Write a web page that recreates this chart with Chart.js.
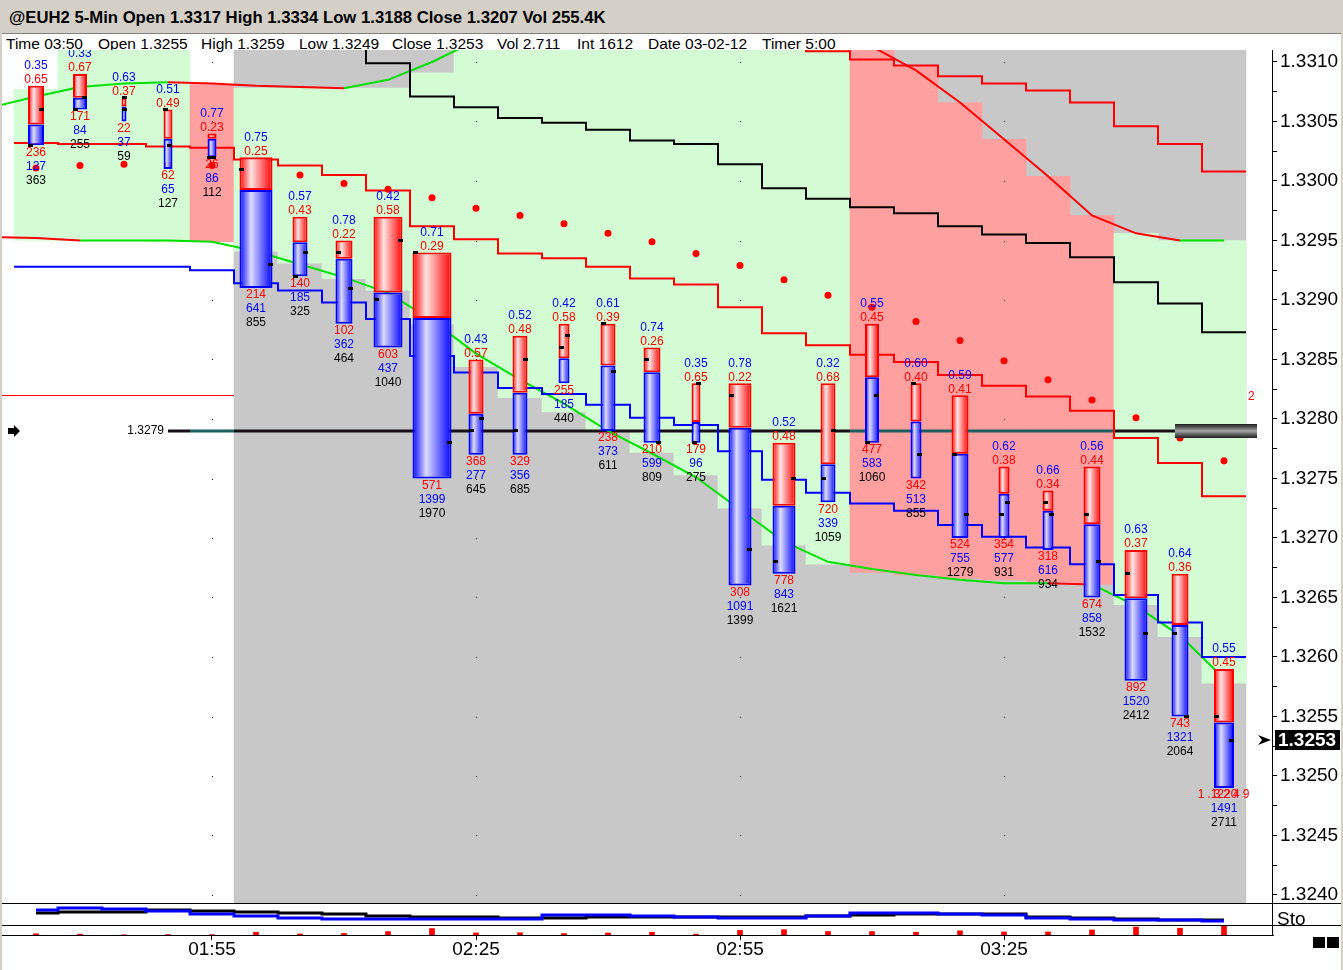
<!DOCTYPE html>
<html>
<head>
<meta charset="utf-8">
<title>@EUH2 5-Min</title>
<script src="https://cdn.jsdelivr.net/npm/chart.js@4.4.1/dist/chart.umd.min.js"></script>
<style>
  html, body { margin: 0; padding: 0; }
  body { width: 1343px; height: 970px; overflow: hidden; position: relative; background: #fff;
         font-family: "Liberation Sans", Arial, sans-serif; color: #000; }
  .abs { position: absolute; }
  #titlebar { left: 0; top: 0; width: 1343px; height: 34px; background: #d4d0c8; border-bottom: 1px solid #808080; box-sizing: border-box; }
  #titlebar span { position: absolute; left: 9px; top: 8px; font-weight: bold; font-size: 16.7px; white-space: nowrap; }
  #info span { position: absolute; top: 36px; font-size: 15.5px; line-height: 15px; white-space: nowrap; }
  canvas { position: absolute; left: 0; }
  .hline { position: absolute; height: 1px; background: #000; }
  .frame { position: absolute; background: #d4d0c8; }
</style>
</head>
<body>
<div id="titlebar" class="abs"><span>@EUH2 5-Min Open 1.3317 High 1.3334 Low 1.3188 Close 1.3207 Vol 255.4K</span></div>
<div id="info"></div>
<canvas id="main" width="1343" height="853" style="top:50px"></canvas>
<canvas id="sto" width="1343" height="22" style="top:903px"></canvas>
<canvas id="vol" width="1343" height="45" style="top:925px"></canvas>
<div class="hline" style="left:0;top:903px;width:1343px"></div>
<div class="hline" style="left:0;top:925px;width:1343px"></div>
<div class="hline" style="left:0;top:935px;width:1274px"></div>
<div class="abs" style="left:1272px;top:903px;width:1px;height:33px;background:#000"></div>
<div class="abs" style="left:1277px;top:909px;font-size:19px;line-height:19px">Sto</div>
<div class="abs" style="left:1313px;top:937px;width:12px;height:11px;background:#000"></div>
<div class="abs" style="left:1327px;top:937px;width:12px;height:11px;background:#000"></div>
<div class="frame" style="left:0;top:33px;width:2px;height:937px"></div>
<div class="frame" style="left:1341px;top:33px;width:2px;height:937px"></div>

<script>
// ----------------------
// Data (5-min bars, 01:35 .. 03:50)
// ----------------------
const times = ['01:35','01:40','01:45','01:50','01:55','02:00','02:05','02:10','02:15','02:20',
               '02:25','02:30','02:35','02:40','02:45','02:50','02:55','03:00','03:05','03:10',
               '03:15','03:20','03:25','03:30','03:35','03:40','03:45','03:50'];
const axisTimes = ['01:55', '02:25', '02:55', '03:25'];
const priceLabels = ['1.3240','1.3245','1.3250','1.3255','1.3260','1.3265','1.3270','1.3275',
                     '1.3280','1.3285','1.3290','1.3295','1.3300','1.3305','1.3310'];

const open  = [1.3303,1.3306,1.3307,1.3306,1.3302,1.3301,1.3292,1.3294,1.3290,1.3294,1.3279,1.3279,1.3286,1.3288,
               1.3285,1.3278,1.3282,1.3268,1.3275,1.3278,1.3283,1.3277,1.3272,1.3273,1.3272,1.3267,1.3262,1.3255];
const high  = [1.3308,1.3309,1.3307,1.3306,1.3304,1.3302,1.3297,1.3295,1.3297,1.3294,1.3285,1.3287,1.3288,1.3288,
               1.3286,1.3283,1.3283,1.3278,1.3283,1.3288,1.3283,1.3282,1.3276,1.3274,1.3276,1.3269,1.3267,1.3259];
const low   = [1.3303,1.3306,1.3305,1.3301,1.3302,1.3291,1.3292,1.3288,1.3286,1.3275,1.3277,1.3277,1.3283,1.3279,
               1.3278,1.3278,1.3266,1.3267,1.3273,1.3278,1.3275,1.3270,1.3270,1.3269,1.3265,1.3258,1.3255,1.3249];
const close = [1.3306,1.3307,1.3306,1.3303,1.3302,1.3293,1.3294,1.3291,1.3295,1.3278,1.3280,1.3285,1.3287,1.3284,
               1.3278,1.3283,1.3269,1.3275,1.3279,1.3282,1.3277,1.3272,1.3273,1.3272,1.3268,1.3262,1.3255,1.3253];

const upRatio   = [0.35,0.33,0.63,0.51,0.77,0.75,0.57,0.78,0.42,0.71,0.43,0.52,0.42,0.61,
                   0.74,0.35,0.78,0.52,0.32,0.55,0.60,0.59,0.62,0.66,0.56,0.63,0.64,0.55];
const downRatio = [0.65,0.67,0.37,0.49,0.23,0.25,0.43,0.22,0.58,0.29,0.57,0.48,0.58,0.39,
                   0.26,0.65,0.22,0.48,0.68,0.45,0.40,0.41,0.38,0.34,0.44,0.37,0.36,0.45];
const downVol  = [236,171,22,62,26,214,140,102,603,571,368,329,255,238,210,179,308,778,720,477,342,524,354,318,674,892,743,1220];
const upVol    = [127,84,37,65,86,641,185,362,437,1399,277,356,185,373,599,96,1091,843,339,583,513,755,577,616,858,1520,1321,1491];
const totalVol = [363,255,59,127,112,855,325,464,1040,1970,645,685,440,611,809,275,1399,1621,1059,1060,855,1279,931,934,1532,2412,2064,2711];

// red dots
const sar = [1.33011,1.33013,1.33014,1.33014,1.33013,1.33009,1.33005,1.32998,1.32993,1.32986,1.32977,1.32971,1.32964,1.32956,
             1.32949,1.32939,1.32929,1.32917,1.32904,1.32894,1.32882,1.32866,1.32849,1.32833,1.32816,1.32801,1.32784,1.32765];

// step lines, one level per bar slot
const stopLine  = [1.33032,1.33031,1.33031,1.33029,1.33028,1.33018,1.33013,1.33005,1.32992,1.32962,1.32951,1.32939,1.32935,1.32928,
                   1.32918,1.32913,1.32894,1.32872,1.32862,1.32854,1.32848,1.32837,1.32828,1.32819,1.32807,1.32784,1.32763,1.32735];
const trailLine = [1.32928,1.32928,1.32928,1.32928,1.32925,1.32914,1.32908,1.32898,1.32884,1.32853,1.32839,1.32826,1.32821,1.32812,
                   1.32801,1.32795,1.32773,1.32749,1.32738,1.32729,1.32723,1.32711,1.32701,1.32692,1.32678,1.32652,1.32629,1.32600];
const slowLine  = [null,null,null,null,null,null,null,1.33118,1.33099,1.33071,1.33062,1.33053,1.33049,1.33043,
                   1.33034,1.33031,1.33014,1.32994,1.32985,1.32978,1.32973,1.32962,1.32955,1.32948,1.32936,1.32915,1.32897,1.32873];
const upperStop = [null,null,null,null,null,null,null,null,null,null,null,null,null,null,null,null,null,
                   1.33118,1.33109,1.33102,1.33097,1.33088,1.33082,1.33076,1.33066,1.33046,1.33031,1.33008];

// envelope lines: first value belongs to the 01:30 bar just off the left edge
const upperBand = [1.33062, 1.33071,1.33079,1.33082,1.33083,1.33082,1.33080,1.33079,1.33078,1.33085,1.33100,1.33118,
                   null,null,null,null,null,null,null,null,
                   1.33113,1.33093,1.33066,1.33035,1.33004,1.32971,1.32956,1.32950,1.32950];
const lowerBand = [1.32953, 1.32952,1.32950,1.32950,1.32950,1.32949,1.32941,1.32930,1.32919,1.32906,1.32883,1.32855,1.32833,1.32813,
                   1.32790,1.32771,1.32751,1.32724,1.32697,1.32680,1.32674,1.32669,1.32665,1.32662,1.32662,1.32661,1.32643,1.32618,1.32582];
const lowerTone = ['r','r','g','g','g','g','g','g','g','g','g','g','g','g','g','g','g','g','g','g','g','g','g','g','r','g','g','g','g'];

// shaded band columns per slot
const bandHigh = [1.33077,1.33118,1.33118,1.33118,1.33081,1.33078,1.33078,1.33078,1.33078,1.33091,
                  1.33118,1.33118,1.33118,1.33118,1.33118,1.33118,1.33118,1.33118,1.33118,1.33118,
                  1.33097,1.33066,1.33035,1.33004,1.32971,1.32956,1.32950,1.32950];
const bandLow  = [1.32950,1.32950,1.32950,1.32949,1.32949,1.32941,1.32931,1.32918,1.32908,1.32880,1.32844,1.32818,1.32806,1.32791,
                  1.32772,1.32753,1.32725,1.32694,1.32678,1.32671,1.32669,1.32666,1.32665,1.32663,1.32661,1.32644,1.32617,1.32578];
const bandTone = ['g','g','g','g','r','g','g','g','g','g','g','g','g','g','g','g','g','g','g','r','r','r','r','r','r','g','g','g'];
const shadedFrom = 5;

const levelRed = 1.3282;
const levelBlack = 1.3279;
const levelSpan = ['01:50', '03:45'];

// stochastic panel (%)
const stoK = [68,77,73,64,50,41,32,27,27,27,27,27,45,45,41,36,32,32,41,55,55,50,45,32,27,23,23,18];
const stoD = [55,59,59,68,64,59,55,50,41,36,36,32,32,36,36,36,36,36,41,45,50,50,50,36,32,27,23,23];

// ----------------------
// Styling
// ----------------------
const barPx = [16,14,5,9,9,33,15,17,29,39,15,15,11,15,17,9,23,23,15,14,11,17,11,11,17,23,17,20];
const RED = '#ff0000', BLUE = '#0000ff', GREEN = '#00e000';
const GRAY = '#c8c8c8', BAND_G = '#d4fcd4', BAND_R = '#ffa0a0';
const FONT = '"Liberation Sans", Arial, sans-serif';
Chart.defaults.font.family = FONT;

const X_MIN = -34 / 44, X_MAX = X_MIN + 1270 / 44;
const P_MAX = 1.3310 + 12 / 119000, P_MIN = 1.3310 - 841 / 119000;

const idx = times.map((t, i) => i);
const last = times.length - 1;
const split = idx.map(i => low[i] + (high[i] - low[i]) * upRatio[i]);

const priceTicks = [];
priceLabels.forEach((p, k) => {
  priceTicks.push(+p);
  if (k < priceLabels.length - 1) priceTicks.push((+p + +priceLabels[k + 1]) / 2);
});

// info line
const info = [
  ['Time ' + times[last], 6], ['Open ' + open[last].toFixed(4), 98], ['High ' + high[last].toFixed(4), 201],
  ['Low ' + low[last].toFixed(4), 299], ['Close ' + close[last].toFixed(4), 392],
  ['Vol ' + (totalVol[last] / 1000).toFixed(3), 497], ['Int 1612', 577], ['Date 03-02-12', 648], ['Timer 5:00', 762]
];
const infoEl = document.getElementById('info');
info.forEach(([txt, left]) => {
  const s = document.createElement('span');
  s.textContent = txt; s.style.left = left + 'px';
  infoEl.appendChild(s);
});

function slotSteps(vals) {
  const pts = vals.map((v, i) => ({ x: i - 0.5, y: v }));
  pts.push({ x: vals.length - 0.5, y: vals[vals.length - 1] });
  return pts;
}

function cylinder(edge, light) {
  return c => {
    if (c.type !== 'data' || !c.chart.chartArea) return edge;
    const cx = c.chart.scales.x.getPixelForValue(c.dataIndex);
    const w = barPx[c.dataIndex];
    const g = c.chart.ctx.createLinearGradient(cx - w / 2, 0, cx + w / 2, 0);
    g.addColorStop(0, edge);
    g.addColorStop(0.35, light);
    g.addColorStop(1, edge);
    return g;
  };
}

function stepLine(vals, color, order) {
  return { type: 'line', data: slotSteps(vals), stepped: true, borderColor: color, borderWidth: 2,
           pointRadius: 0, fill: false, order: order };
}

// ----------------------
// Plugins
// ----------------------
const barWidths = {
  id: 'barWidths',
  afterDatasetsUpdate(chart) {
    chart.data.datasets.forEach((ds, di) => {
      if (!ds.volBar) return;
      chart.getDatasetMeta(di).data.forEach((el, i) => { el.width = barPx[i]; });
    });
  }
};

const overlay = {
  id: 'overlay',
  afterDatasetDraw(chart, args) {
    if (chart.data.datasets[args.index].role !== 'band') return;
    const { ctx, chartArea: a, scales: { x, y } } = chart;
    ctx.save();
    ctx.beginPath(); ctx.rect(a.left, a.top, a.width, a.height); ctx.clip();

    // grid dots
    ctx.fillStyle = '#000';
    axisTimes.forEach(t => {
      const px = Math.round(x.getPixelForValue(times.indexOf(t)));
      priceLabels.forEach(p => ctx.fillRect(px, Math.round(y.getPixelForValue(+p)), 1, 1));
    });

    // thin red level on the left
    const yr = Math.round(y.getPixelForValue(levelRed)) + 0.5;
    ctx.strokeStyle = RED; ctx.lineWidth = 1;
    ctx.beginPath(); ctx.moveTo(a.left, yr); ctx.lineTo(x.getPixelForValue(shadedFrom - 0.5), yr); ctx.stroke();

    // black level
    const yb = Math.round(y.getPixelForValue(levelBlack));
    const i0 = times.indexOf(levelSpan[0]), i1 = times.indexOf(levelSpan[1]);
    const xa = x.getPixelForValue(i0), xb = x.getPixelForValue(i1) - 5;
    ctx.lineWidth = 3;
    for (let i = i0; i <= i1; i++) {
      const s = Math.max(xa, x.getPixelForValue(i - 0.5)), e = Math.min(xb, x.getPixelForValue(i + 0.5));
      if (e <= s) continue;
      ctx.strokeStyle = bandTone[i] === 'r' ? '#1d5e5e' : '#161016';
      ctx.beginPath(); ctx.moveTo(s, yb); ctx.lineTo(e, yb); ctx.stroke();
    }
    ctx.fillStyle = '#000';
    ctx.font = '12px ' + FONT; ctx.textAlign = 'right'; ctx.textBaseline = 'middle';
    ctx.fillText(levelBlack.toFixed(4), xa - 4, yb);
    // arrow at left edge
    ctx.beginPath();
    ctx.moveTo(8, yb - 3); ctx.lineTo(14, yb - 3); ctx.lineTo(14, yb - 6); ctx.lineTo(20, yb);
    ctx.lineTo(14, yb + 6); ctx.lineTo(14, yb + 3); ctx.lineTo(8, yb + 3); ctx.closePath(); ctx.fill();
    ctx.restore();
  },
  afterDatasetsDraw(chart) {
    const { ctx, chartArea: a, scales: { x, y } } = chart;
    ctx.save();

    // open / close ticks
    ctx.fillStyle = '#000';
    idx.forEach(i => {
      const cx = x.getPixelForValue(i), w = barPx[i];
      ctx.fillRect(Math.round(cx - w / 2), Math.round(y.getPixelForValue(open[i]) - 1.5), 5, 3);
      ctx.fillRect(Math.round(cx + w / 2 - 5), Math.round(y.getPixelForValue(close[i]) - 1.5), 5, 3);
    });

    // labels around the bars
    ctx.font = '12px ' + FONT; ctx.textAlign = 'center'; ctx.textBaseline = 'middle';
    idx.forEach(i => {
      const cx = x.getPixelForValue(i);
      const top = y.getPixelForValue(high[i]), bot = y.getPixelForValue(low[i]);
      if (i === last) {
        ctx.fillStyle = RED; ctx.letterSpacing = '3px';
        ctx.fillText(low[i].toFixed(4), cx + 1, bot + 7);
        ctx.letterSpacing = '0px';
      }
      ctx.fillStyle = BLUE; ctx.fillText(upRatio[i].toFixed(2), cx, top - 20);
      ctx.fillStyle = RED;  ctx.fillText(downRatio[i].toFixed(2), cx, top - 6);
      ctx.fillStyle = RED;  ctx.fillText(String(downVol[i]), cx, bot + 7);
      ctx.fillStyle = BLUE; ctx.fillText(String(upVol[i]), cx, bot + 21);
      ctx.fillStyle = '#000'; ctx.fillText(String(totalVol[i]), cx, bot + 35);
    });

    // metal box at end of black level
    const yb = Math.round(y.getPixelForValue(levelBlack));
    const bx0 = x.getPixelForValue(times.indexOf(levelSpan[1])) - 5, bx1 = a.right - 15;
    const g = ctx.createLinearGradient(0, yb - 7, 0, yb + 7);
    g.addColorStop(0, '#1e1e1e'); g.addColorStop(0.3, '#6a6a6a'); g.addColorStop(0.5, '#a8a8a8');
    g.addColorStop(0.7, '#6a6a6a'); g.addColorStop(1, '#1e1e1e');
    ctx.fillStyle = g; ctx.fillRect(bx0, yb - 7, bx1 - bx0, 14);

    // clipped red label at the right
    ctx.fillStyle = RED; ctx.textAlign = 'left';
    ctx.fillText('2', a.right - 24, y.getPixelForValue(levelRed) + 1);

    // current price marker
    const yc = Math.round(y.getPixelForValue(close[last]));
    ctx.fillStyle = '#000';
    ctx.beginPath();
    ctx.moveTo(a.right - 14, yc - 5); ctx.lineTo(a.right - 1, yc); ctx.lineTo(a.right - 14, yc + 5);
    ctx.lineTo(a.right - 10, yc); ctx.closePath(); ctx.fill();
    ctx.fillRect(a.right + 3, yc - 10, 65, 20);
    ctx.fillStyle = '#fff'; ctx.font = 'bold 19px ' + FONT; ctx.textBaseline = 'middle';
    ctx.fillText(close[last].toFixed(4), a.right + 6, yc + 1);
    ctx.restore();
  }
};

// ----------------------
// Main price chart
// ----------------------
new Chart(document.getElementById('main'), {
  type: 'bar',
  data: {
    datasets: [
      { data: idx.filter(i => i >= shadedFrom).map(i => ({ x: i, y: [P_MIN, P_MAX] })),
        backgroundColor: GRAY, barPercentage: 1, categoryPercentage: 1, grouped: false, clip: 0, order: 100 },
      { role: 'band', data: idx.map(i => ({ x: i, y: [bandLow[i], bandHigh[i]] })),
        backgroundColor: idx.map(i => bandTone[i] === 'r' ? BAND_R : BAND_G),
        barPercentage: 1, categoryPercentage: 1, grouped: false, clip: 0, order: 90 },
      { type: 'line', data: lowerBand.map((v, k) => ({ x: k - 1, y: v })), borderWidth: 2, pointRadius: 0,
        borderColor: GREEN, segment: { borderColor: c => lowerTone[c.p0DataIndex] === 'r' ? RED : GREEN }, order: 60 },
      { type: 'line', data: upperBand.map((v, k) => ({ x: k - 1, y: v })), borderWidth: 2, pointRadius: 0,
        borderColor: GREEN, segment: { borderColor: c => c.p1.parsed.y < c.p0.parsed.y ? RED : GREEN }, order: 60 },
      stepLine(slowLine, '#000', 55),
      stepLine(upperStop, RED, 55),
      stepLine(trailLine, BLUE, 54),
      stepLine(stopLine, RED, 53),
      { type: 'line', data: idx.map(i => ({ x: i, y: sar[i] })), showLine: false, pointRadius: 3.5,
        pointBackgroundColor: RED, pointBorderWidth: 0, order: 40 },
      { volBar: true, data: idx.map(i => ({ x: i, y: [split[i], high[i]] })),
        backgroundColor: cylinder(RED, '#ffe4e4'), borderColor: RED, borderWidth: 2, borderSkipped: false,
        grouped: false, order: 10 },
      { volBar: true, data: idx.map(i => ({ x: i, y: [low[i], split[i]] })),
        backgroundColor: cylinder(BLUE, '#dcdcff'), borderColor: BLUE, borderWidth: 2, borderSkipped: false,
        grouped: false, order: 9 }
    ]
  },
  options: {
    responsive: false, animation: false, events: [],
    layout: { autoPadding: false, padding: { left: 2, right: 0, top: 0, bottom: 0 } },
    plugins: { legend: { display: false }, tooltip: { enabled: false } },
    scales: {
      x: { type: 'linear', min: X_MIN, max: X_MAX, offset: false, display: false },
      y: {
        position: 'right', min: P_MIN, max: P_MAX, beginAtZero: false,
        afterBuildTicks: s => { s.ticks = priceTicks.map(v => ({ value: v })); },
        afterFit: s => { s.width = 71; s.paddingTop = 0; s.paddingBottom = 0; },
        grid: { drawOnChartArea: false, tickLength: 5, color: '#000' },
        border: { color: '#000' },
        ticks: { autoSkip: false, color: '#000', padding: 3, font: { size: 19 },
                 callback: v => priceLabels.find(p => Math.abs(+p - v) < 1e-7) || '' }
      }
    }
  },
  plugins: [barWidths, overlay]
});

// ----------------------
// Stochastic panel
// ----------------------
new Chart(document.getElementById('sto'), {
  type: 'line',
  data: {
    datasets: [
      { data: idx.map(i => ({ x: i, y: stoK[i] })), borderColor: BLUE, borderWidth: 3, pointRadius: 0, stepped: 'middle', order: 1 },
      { data: idx.map(i => ({ x: i, y: stoD[i] })), borderColor: '#000', borderWidth: 3, pointRadius: 0, stepped: 'middle', order: 2 }
    ]
  },
  options: {
    responsive: false, animation: false, events: [],
    layout: { autoPadding: false, padding: { left: 2, right: 71, top: 0, bottom: 0 } },
    plugins: { legend: { display: false }, tooltip: { enabled: false } },
    scales: {
      x: { type: 'linear', min: X_MIN, max: X_MAX, display: false },
      y: { min: 0, max: 100, display: false }
    }
  }
});

// ----------------------
// Volume marks + time axis
// ----------------------
new Chart(document.getElementById('vol'), {
  type: 'bar',
  data: {
    datasets: [{ data: idx.map(i => ({ x: i, y: totalVol[i] })), backgroundColor: RED, barThickness: 5, grouped: false }]
  },
  options: {
    responsive: false, animation: false, events: [],
    layout: { autoPadding: false, padding: { left: 2, right: 71, top: 0, bottom: 0 } },
    plugins: { legend: { display: false }, tooltip: { enabled: false } },
    scales: {
      x: {
        type: 'linear', min: X_MIN, max: X_MAX, offset: false, position: 'bottom',
        afterBuildTicks: s => { s.ticks = axisTimes.map(t => ({ value: times.indexOf(t) })); },
        afterFit: s => { s.height = 35; s.paddingLeft = 0; s.paddingRight = 0; },
        grid: { drawOnChartArea: false, tickLength: 5, color: '#000', offset: false },
        border: { display: false },
        ticks: { autoSkip: false, maxRotation: 0, color: '#000', padding: 0,
                 font: { size: 19, lineHeight: 1 }, callback: v => times[v] }
      },
      y: { min: 0, max: 3050, display: false, beginAtZero: true }
    }
  }
});
</script>
</body>
</html>
